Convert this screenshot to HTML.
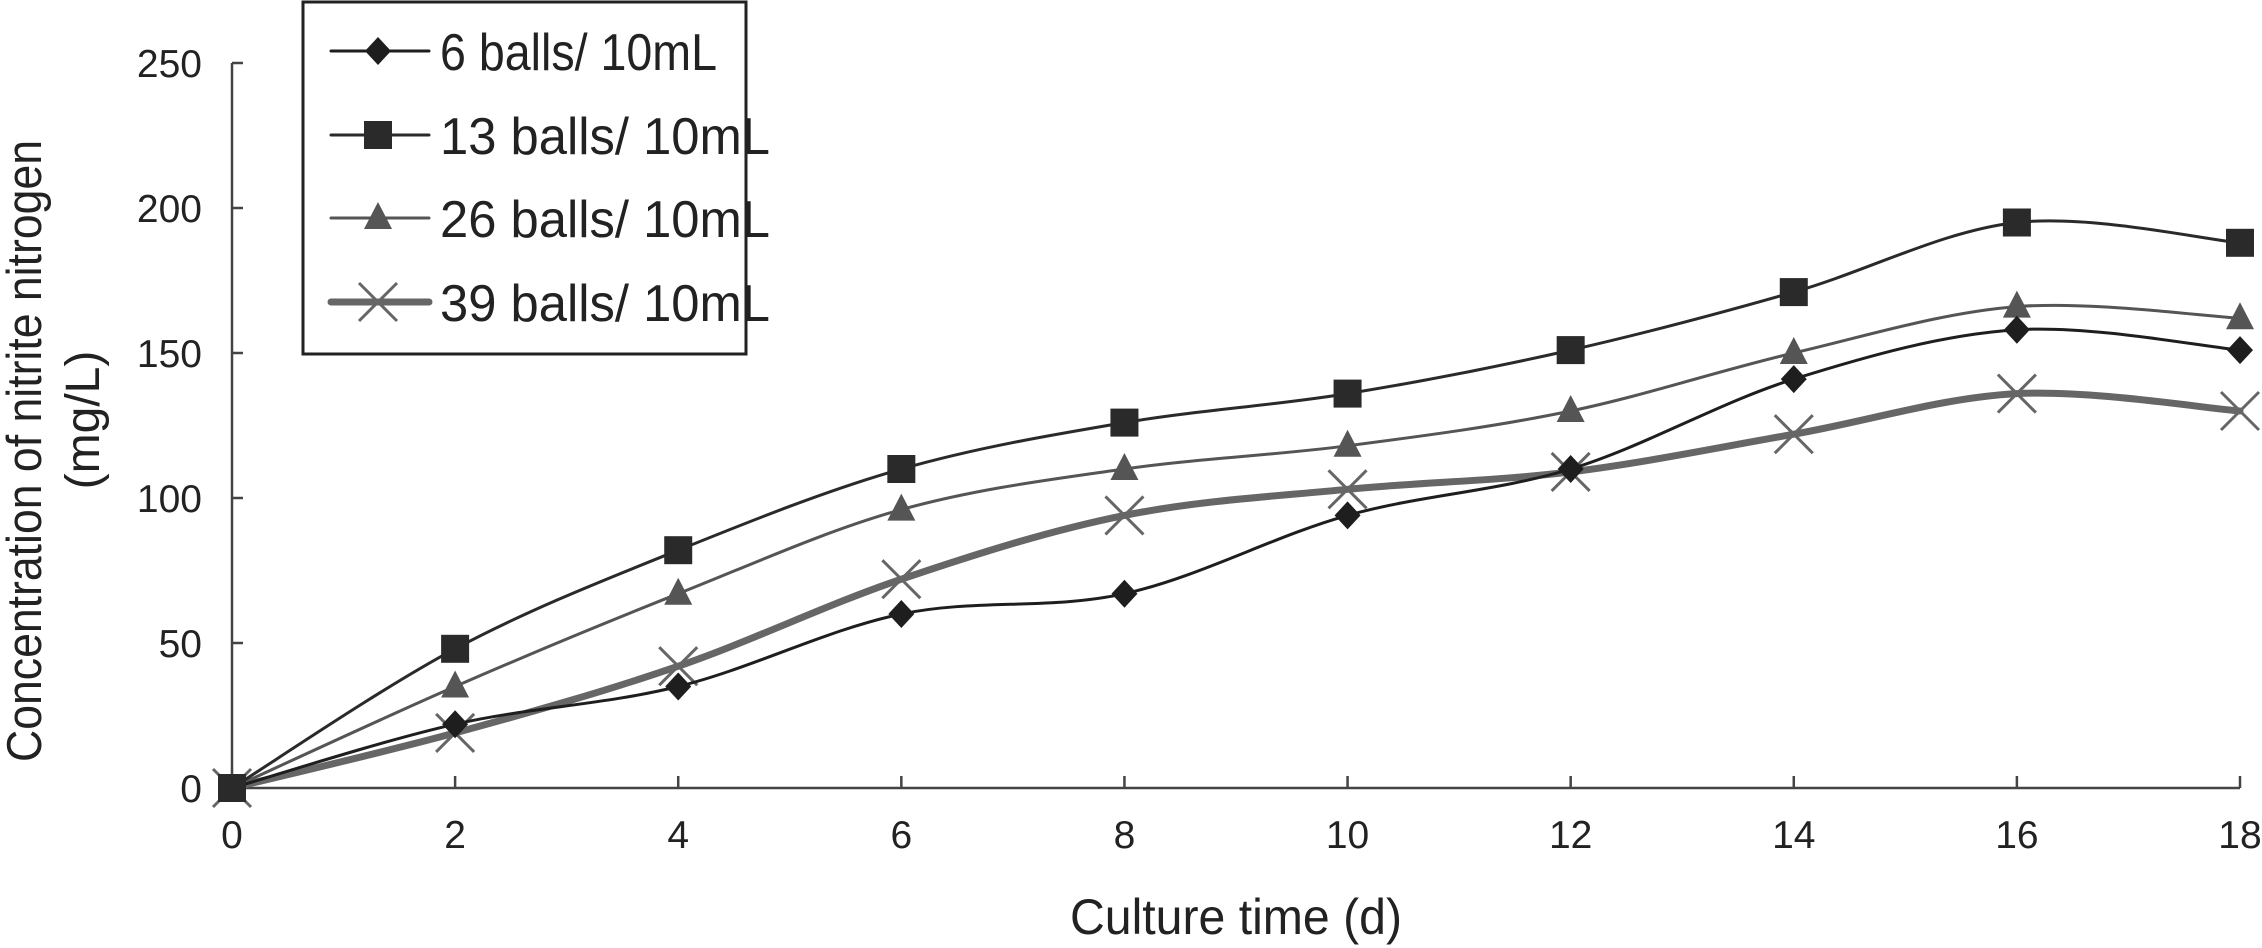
<!DOCTYPE html>
<html><head><meta charset="utf-8"><style>
html,body{margin:0;padding:0;background:#fff;}
svg{display:block;font-family:"Liberation Sans",Arial,sans-serif;}
</style></head><body>
<svg id="chart" width="2262" height="948" viewBox="0 0 2262 948">
<g id="axes"></g>
<g id="series"></g>
<text x="41" y="451" transform="rotate(-90 41 451)" text-anchor="middle" font-size="49" textLength="622" lengthAdjust="spacingAndGlyphs" fill="#222">Concentration of nitrite nitrogen</text>
<text x="99" y="420" transform="rotate(-90 99 420)" text-anchor="middle" font-size="48" fill="#222">(mg/L)</text>
<text x="1236" y="934" text-anchor="middle" font-size="50" textLength="332" lengthAdjust="spacingAndGlyphs" fill="#222">Culture time (d)</text>
<g id="legend">
<rect x="303" y="2" width="443" height="352" fill="#fff" stroke="#222" stroke-width="3"/>
</g>
</svg>
<script>
const days = [0,2,4,6,8,10,12,14,16,18];
const balls6 = [0,22,35,60,67,94,110,141,158,151];
const balls13 = [0,48,82,110,126,136,151,171,195,188];
const balls26 = [0,35,67,96,110,118,130,150,166,162];
const balls39 = [0,19,42,72,94,103,109,122,136,130];
const yTicks = [0,50,100,150,200,250];
const xTicks = [0,2,4,6,8,10,12,14,16,18];
const seriesNames = ["6 balls/ 10mL","13 balls/ 10mL","26 balls/ 10mL","39 balls/ 10mL"];

const NS="http://www.w3.org/2000/svg";
const X0=232,X1=2240,Y0=788,Y1=63;
const sx=v=>X0+(v-0)/(18-0)*(X1-X0);
const sy=v=>Y0-(v-0)/(250-0)*(Y0-Y1);
function mk(tag,attrs,parent){const e=document.createElementNS(NS,tag);for(const k in attrs)e.setAttribute(k,attrs[k]);parent.appendChild(e);return e;}
const axes=document.getElementById('axes');
let e;
e=mk('line',{x1:X0,y1:Y0,x2:X1,y2:Y0,stroke:'#444','stroke-width':2.5},axes);


e=mk('line',{x1:X0,y1:Y0,x2:X0,y2:Y1,stroke:'#444','stroke-width':2.5},axes);


yTicks.forEach(t=>{
  e=mk('line',{x1:X0,y1:sy(t),x2:X0+11,y2:sy(t),stroke:'#444','stroke-width':2.5},axes);
  
  
  e=mk('text',{x:202,y:sy(t)+14,'text-anchor':'end','font-size':39,fill:'#222'},axes);
  e.textContent=t;
  
  
});
xTicks.forEach(t=>{
  e=mk('line',{x1:sx(t),y1:Y0,x2:sx(t),y2:Y0-12,stroke:'#444','stroke-width':2.5},axes);
  
  
  e=mk('text',{x:sx(t),y:848,'text-anchor':'middle','font-size':39,fill:'#222'},axes);
  e.textContent=t;
  
  
});
function smooth(pts){
  let d=`M${pts[0][0]},${pts[0][1]}`;
  for(let i=0;i<pts.length-1;i++){
    const p0=pts[i-1]||pts[i],p1=pts[i],p2=pts[i+1],p3=pts[i+2]||p2;
    const t=1/6;
    d+=` C${p1[0]+(p2[0]-p0[0])*t},${p1[1]+(p2[1]-p0[1])*t} ${p2[0]-(p3[0]-p1[0])*t},${p2[1]-(p3[1]-p1[1])*t} ${p2[0]},${p2[1]}`;
  }
  return d;
}
function marker(type,x,y,g,color){
  let m;
  if(type==='diamond') m=mk('polygon',{points:`${x},${y-14} ${x+13},${y} ${x},${y+14} ${x-13},${y}`,fill:color},g);
  else if(type==='square') m=mk('rect',{x:x-14,y:y-14,width:28,height:28,fill:color},g);
  else if(type==='triangle') m=mk('polygon',{points:`${x},${y-16} ${x+14},${y+11} ${x-14},${y+11}`,fill:color},g);
  else m=mk('path',{d:`M${x-19},${y-19}L${x+19},${y+19}M${x+19},${y-19}L${x-19},${y+19}`,stroke:color,'stroke-width':3,fill:'none'},g);
  return m;
}
const cfg=[
 {vals:balls6,type:'diamond',line:'#1e1e1e',w:3,mc:'#1e1e1e',name:'series-6-balls'},
 {vals:balls13,type:'square',line:'#2a2a2a',w:3,mc:'#2a2a2a',name:'series-13-balls'},
 {vals:balls26,type:'triangle',line:'#555',w:3,mc:'#555',name:'series-26-balls'},
 {vals:balls39,type:'x',line:'#666',w:7,mc:'#666',name:'series-39-balls'}
];
const sg=document.getElementById('series');
const order=[3,2,0,1];
order.forEach(i=>{
  const c=cfg[i];
  const g=mk('g',{},sg);
  
  
  const pts=days.map((d,j)=>[sx(d),sy(c.vals[j])]);
  e=mk('path',{d:smooth(pts),fill:'none',stroke:c.line,'stroke-width':c.w,'stroke-linecap':'round'},g);
  
  
  pts.forEach(p=>{
    e=marker(c.type,p[0],p[1],g,c.mc);
    
    
  });
});
const lg=document.getElementById('legend');
const ly=[51,135,218,302];
const lw=[277,330,330,330];
cfg.forEach((c,i)=>{
  const g=mk('g',{},lg);
  
  
  e=mk('line',{x1:331,y1:ly[i],x2:429,y2:ly[i],stroke:c.line,'stroke-width':c.w,'stroke-linecap':'round'},g);
  
  
  e=marker(c.type,378,ly[i],g,c.mc);
  
  
  e=mk('text',{x:440,y:ly[i]+19,'font-size':52,fill:'#222',textLength:lw[i],lengthAdjust:'spacingAndGlyphs'},g);
  e.textContent=seriesNames[i];
  
  
});
</script>
</body></html>
